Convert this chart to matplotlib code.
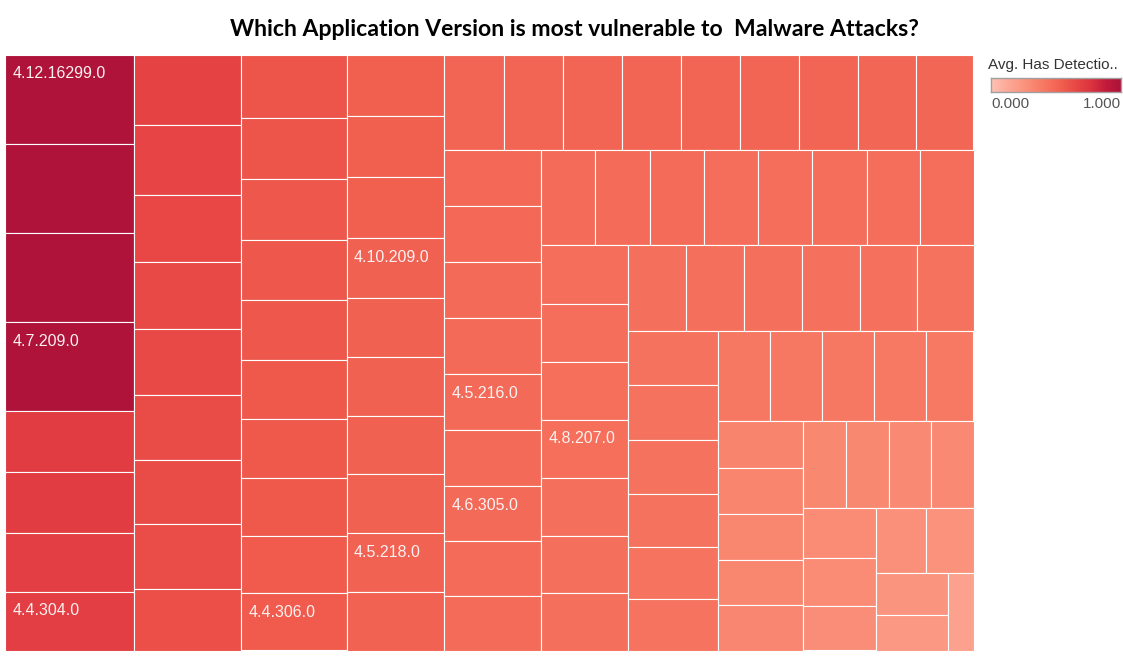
import matplotlib
matplotlib.use('Agg')
import matplotlib.pyplot as plt
from matplotlib.colors import LinearSegmentedColormap
from matplotlib.patches import Rectangle
import numpy as np

# ---------------- data ----------------
title = "Which Application Version is most vulnerable to  Malware Attacks?"
legend_title = "Avg. Has Detectio.."
legend_min, legend_max = "0.000", "1.000"

# record counts per application version (size), sorted descending
sizes = [
    11500, 11500, 11480, 11450, 7890, 7840, 7630, 7590,
    7520, 7490, 7140, 7090, 7060, 6955, 6920, 6880, 6600,
    6580, 6440, 6435, 6270, 6225, 6195, 6195, 6090, 6060, 5985,
    5946, 5917, 5917, 5752, 5723, 5723, 5723, 5723, 5694, 5660,
    5640, 5580, 5570, 5564, 5564, 5564, 5560, 5507, 5440,
    5430, 5430, 5430, 5430, 5420, 5410, 5335, 5300, 5240,
    5230, 5220, 5184, 5184, 5184, 5184, 5150, 5088,
    5080, 5080, 5080, 5080, 5070, 5016, 4990,
    4980, 4970, 4960, 4936, 4902, 4868,
    4860, 4860, 4860, 4770, 4680, 4653,
    4628, 4628, 4628, 4575, 4236,
    3995, 3910, 3910, 3885, 3825,
    3741, 3741, 3654, 3654,
    3650, 3504, 3263,
    3250, 3055,
    3024, 2570,
    1942,
]

# average HasDetections per version (colour)
avg_detections = [
    0.99, 0.99, 0.99, 0.99, 0.72, 0.72, 0.71, 0.71,
    0.68, 0.67, 0.66, 0.65, 0.65, 0.64, 0.64, 0.63, 0.62,
    0.59, 0.59, 0.58, 0.58, 0.58, 0.57, 0.57, 0.57, 0.56, 0.56,
    0.54, 0.54, 0.54, 0.53, 0.53, 0.53, 0.53, 0.53, 0.52, 0.52,
    0.51, 0.51, 0.51, 0.51, 0.51, 0.51, 0.51, 0.50, 0.50,
    0.49, 0.49, 0.48, 0.48, 0.48, 0.48, 0.48, 0.47, 0.47,
    0.47, 0.47, 0.47, 0.46, 0.46, 0.46, 0.46, 0.46,
    0.46, 0.46, 0.455, 0.455, 0.45, 0.45, 0.45,
    0.45, 0.45, 0.45, 0.445, 0.445, 0.44,
    0.44, 0.44, 0.44, 0.435, 0.43, 0.43,
    0.41, 0.41, 0.405, 0.40, 0.40,
    0.34, 0.335, 0.33, 0.33, 0.325,
    0.32, 0.32, 0.315, 0.31,
    0.30, 0.30, 0.29,
    0.275, 0.265,
    0.25, 0.23,
    0.175,
]

# version labels shown on the marks (empty = label hidden)
labels = [""] * len(sizes)
labels[0] = "4.12.16299.0"
labels[3] = "4.7.209.0"
labels[7] = "4.4.304.0"
labels[26] = "4.4.306.0"
labels[30] = "4.10.209.0"
labels[35] = "4.5.218.0"
labels[50] = "4.5.216.0"
labels[52] = "4.6.305.0"
labels[66] = "4.8.207.0"

palette = ['#ffc2b4', '#fdab9b', '#fb9984', '#f9856e', '#f5715d',
           '#f05c4d', '#e74545', '#da323f', '#c11a3b', '#ae123a']

# ---------------- layout helpers ----------------
W, H = 1123, 664
fig = plt.figure(figsize=(W / 100, H / 100), dpi=100)
fig.patch.set_facecolor('white')


def px_axes(x0, y0, x1, y1):
    return fig.add_axes([x0 / W, 1 - y1 / H, (x1 - x0) / W, (y1 - y0) / H])


def worst(row, side, r):
    t = sum(row) / side
    x = t * t
    return max(x / (r * min(row)), r * max(row) / x)


def squarify(values, x, y, w, h, r=1.7):
    total = float(sum(values))
    areas = [v * w * h / total for v in values]
    rects = []
    i = 0
    while i < len(areas):
        side = min(w, h)
        row = [areas[i]]
        j = i + 1
        while j < len(areas) and worst(row + [areas[j]], side, r) <= worst(row, side, r):
            row.append(areas[j])
            j += 1
        t = sum(row) / side
        if w >= h:
            yy = y
            for a in row:
                hh = a / t
                rects.append((x, yy, t, hh))
                yy += hh
            x += t
            w -= t
        else:
            xx = x
            for a in row:
                ww = a / t
                rects.append((xx, y, ww, t))
                xx += ww
            y += t
            h -= t
        i = j
    return rects


cmap = LinearSegmentedColormap.from_list('tableau_red', palette)

# ---------------- treemap ----------------
TW, TH = 968.5, 595.5
ax = px_axes(5, 55, 5 + TW, 55 + TH)
ax.set_xlim(0, TW)
ax.set_ylim(TH, 0)
ax.axis('off')

rects = squarify(sizes, 0, 0, TW, TH)
for (rx, ry, rw, rh), val, lab in zip(rects, avg_detections, labels):
    ax.add_patch(Rectangle((rx, ry), rw, rh, facecolor=cmap(val),
                           edgecolor='white', linewidth=0.8))
    if lab:
        ax.text(rx + 7.5, ry + 23.5, lab, color='#fbf1f1', fontsize=11.5,
                family='Liberation Sans', va='baseline', ha='left')

# ---------------- title ----------------
fig.text(574 / W, 1 - 30 / H, title, ha='center', va='center',
         fontsize=16.6, fontweight='bold', family='Lato', color='black')

# ---------------- legend ----------------
fig.text(988 / W, 1 - 65 / H, legend_title, ha='left', va='center',
         fontsize=11, family='Liberation Sans', color='#333333')
cax = px_axes(991, 78, 1121, 92)
cax.imshow(np.linspace(0, 1, 256)[None, :], cmap=cmap, aspect='auto',
           extent=[0, 1, 0, 1])
cax.set_xticks([])
cax.set_yticks([])
for s in cax.spines.values():
    s.set_color('#a0a0a0')
    s.set_linewidth(1.0)
fig.text(991 / W, 1 - 103.5 / H, legend_min, ha='left', va='center',
         fontsize=11, family='Liberation Sans', color='#555555')
fig.text(1121 / W, 1 - 103.5 / H, legend_max, ha='right', va='center',
         fontsize=11, family='Liberation Sans', color='#555555')

fig.savefig('out.png', dpi=100, facecolor='white')
